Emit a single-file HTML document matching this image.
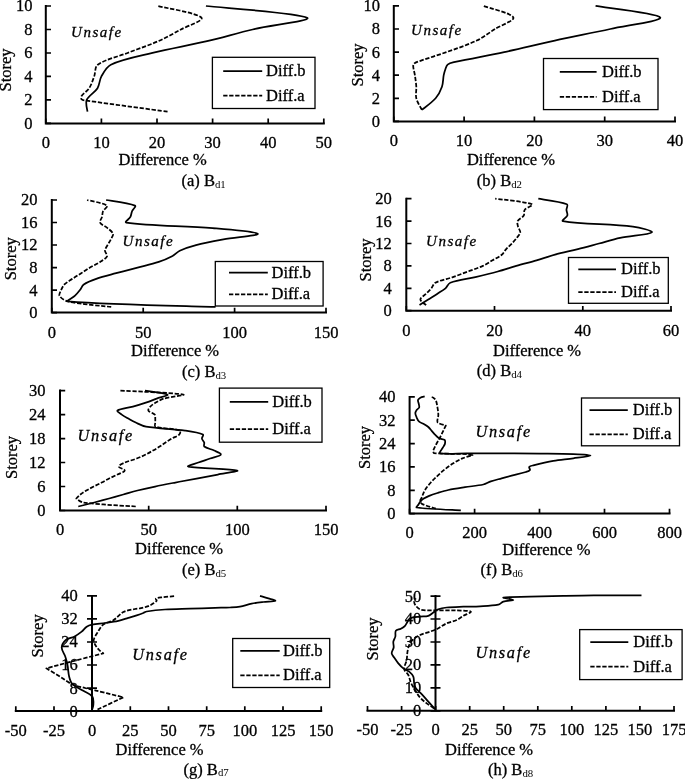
<!DOCTYPE html>
<html><head><meta charset="utf-8"><title>Figure</title>
<style>
html,body{margin:0;padding:0;background:#fff;}
svg{display:block;will-change:transform;}
text{font-family:"Liberation Serif",serif;font-size:16.5px;fill:#000;stroke:#000;stroke-width:0.3px;}
.u{font-style:italic;font-size:15px;letter-spacing:1.55px;}
.u2{font-style:italic;font-size:16.3px;letter-spacing:1.7px;}
</style></head><body>
<svg width="685" height="779" viewBox="0 0 685 779">
<rect width="685" height="779" fill="#fff"/>
<path d="M87.50 111.66C87.36 109.70 85.25 103.24 86.67 99.92C88.59 95.41 94.74 92.59 97.51 88.18C99.65 84.77 99.40 79.97 101.40 76.44C103.84 72.14 106.45 66.72 110.85 64.70C123.50 58.89 138.53 56.38 152.55 52.96C170.59 48.56 188.96 45.46 207.04 41.22C222.32 37.64 237.36 33.06 252.63 29.48C270.72 25.24 312.63 20.51 307.12 17.74C297.06 12.68 222.79 7.96 205.93 6.00" fill="none" stroke="#000" stroke-width="1.75" stroke-linejoin="round" stroke-linecap="butt"/>
<path d="M167.56 111.66C154.05 109.82 113.49 104.45 86.50 100.60C84.87 100.37 82.73 100.29 81.70 99.40C81.03 98.82 80.84 97.04 81.40 96.20C83.33 93.30 87.18 91.25 89.17 88.18C91.44 84.67 92.71 80.43 94.17 76.44C95.58 72.60 94.70 66.87 97.79 64.70C105.82 59.05 117.60 56.83 127.53 52.96C137.71 49.00 148.13 45.61 158.11 41.22C165.92 37.78 173.39 33.55 180.91 29.48C187.85 25.72 204.15 20.42 201.48 17.74C196.36 12.59 164.88 7.96 157.56 6.00" fill="none" stroke="#000" stroke-width="1.75" stroke-linejoin="round" stroke-linecap="butt" stroke-dasharray="4.3 1.7"/>
<path d="M45.8 6.0 V123.4 M45.8 123.4 H323.8" stroke="#000" stroke-width="2" fill="none" stroke-linecap="square"/>
<path d="M45.8 123.4H51.0M45.8 99.9H51.0M45.8 76.4H51.0M45.8 53.0H51.0M45.8 29.5H51.0M45.8 6.0H51.0M45.8 123.4V118.6M101.4 123.4V118.6M157.0 123.4V118.6M212.6 123.4V118.6M268.2 123.4V118.6M323.8 123.4V118.6" stroke="#000" stroke-width="1.7" fill="none"/>
<text x="32.5" y="128.8" text-anchor="end">0</text>
<text x="32.5" y="105.3" text-anchor="end">2</text>
<text x="32.5" y="81.8" text-anchor="end">4</text>
<text x="32.5" y="58.4" text-anchor="end">6</text>
<text x="32.5" y="34.9" text-anchor="end">8</text>
<text x="32.5" y="11.4" text-anchor="end">10</text>
<text x="45.8" y="147.8" text-anchor="middle">0</text>
<text x="101.4" y="147.8" text-anchor="middle">10</text>
<text x="157.0" y="147.8" text-anchor="middle">20</text>
<text x="212.6" y="147.8" text-anchor="middle">30</text>
<text x="268.2" y="147.8" text-anchor="middle">40</text>
<text x="323.8" y="147.8" text-anchor="middle">50</text>
<text transform="translate(10.5 70.0) rotate(-90)" text-anchor="middle">Storey</text>
<text x="118.6" y="164.5">Difference %</text>
<text x="181.5" y="186.0">(a) B<tspan font-size="10.8" dy="1.5" stroke="none">d1</tspan></text>
<text x="71.0" y="37.3" class="u">Unsafe</text>
<rect x="212.4" y="57.3" width="102.6" height="51.2" fill="#fff" stroke="#000" stroke-width="1.3"/>
<path d="M223.2 71.0H262.2" stroke="#000" stroke-width="1.75"/>
<path d="M223.2 95.5H262.2" stroke="#000" stroke-width="1.75" stroke-dasharray="4.3 1.7"/>
<text x="266.0" y="76.0">Diff.b</text>
<text x="266.0" y="100.5">Diff.a</text>
<path d="M421.92 109.85C424.20 107.93 431.78 102.74 435.63 98.30C438.46 95.04 440.53 90.83 441.96 86.75C443.22 83.13 442.97 79.02 443.71 75.20C444.09 73.27 444.62 71.35 445.30 69.50C445.92 67.81 446.32 65.68 447.60 64.60C449.22 63.24 451.78 62.69 454.00 62.20C470.64 58.52 487.49 55.68 504.17 52.10C521.09 48.47 537.88 44.23 554.79 40.55C573.26 36.53 591.85 33.05 610.32 29.00C627.00 25.35 662.39 20.82 660.24 17.45C657.47 13.12 606.34 7.83 595.56 5.90" fill="none" stroke="#000" stroke-width="1.75" stroke-linejoin="round" stroke-linecap="butt"/>
<path d="M421.92 109.85C420.98 107.93 417.28 102.35 416.30 98.30C415.41 94.65 416.53 90.59 416.30 86.75C416.06 82.89 415.46 79.03 414.89 75.20C414.43 72.12 413.27 69.00 413.20 66.00C413.18 65.00 413.79 63.76 414.60 63.20C416.39 61.96 418.83 61.36 421.00 60.60C429.47 57.66 438.09 55.13 446.53 52.10C456.67 48.45 467.06 45.17 476.75 40.55C483.23 37.47 488.94 32.85 495.03 29.00C501.12 25.15 514.91 20.53 513.31 17.45C510.92 12.83 488.12 7.83 483.08 5.90" fill="none" stroke="#000" stroke-width="1.75" stroke-linejoin="round" stroke-linecap="butt" stroke-dasharray="4.3 1.7"/>
<path d="M393.8 5.9 V121.4 M393.8 121.4 H675.0" stroke="#000" stroke-width="2" fill="none" stroke-linecap="square"/>
<path d="M393.8 121.4H399.0M393.8 98.3H399.0M393.8 75.2H399.0M393.8 52.1H399.0M393.8 29.0H399.0M393.8 5.9H399.0M393.8 121.4V116.6M464.1 121.4V116.6M534.4 121.4V116.6M604.7 121.4V116.6M675.0 121.4V116.6" stroke="#000" stroke-width="1.7" fill="none"/>
<text x="380.0" y="126.8" text-anchor="end">0</text>
<text x="380.0" y="103.7" text-anchor="end">2</text>
<text x="380.0" y="80.6" text-anchor="end">4</text>
<text x="380.0" y="57.5" text-anchor="end">6</text>
<text x="380.0" y="34.4" text-anchor="end">8</text>
<text x="380.0" y="11.3" text-anchor="end">10</text>
<text x="393.8" y="146.2" text-anchor="middle">0</text>
<text x="464.1" y="146.2" text-anchor="middle">10</text>
<text x="534.4" y="146.2" text-anchor="middle">20</text>
<text x="604.7" y="146.2" text-anchor="middle">30</text>
<text x="675.0" y="146.2" text-anchor="middle">40</text>
<text transform="translate(363.4 65.0) rotate(-90)" text-anchor="middle">Storey</text>
<text x="466.9" y="164.5">Difference %</text>
<text x="476.8" y="186.0">(b) B<tspan font-size="10.8" dy="1.5" stroke="none">d2</tspan></text>
<text x="411.0" y="34.8" class="u">Unsafe</text>
<rect x="543.5" y="58.5" width="114.5" height="51.1" fill="#fff" stroke="#000" stroke-width="1.3"/>
<path d="M559.8 71.8H596.6" stroke="#000" stroke-width="1.75"/>
<path d="M559.8 96.9H596.6" stroke="#000" stroke-width="1.75" stroke-dasharray="4.3 1.7"/>
<text x="602.0" y="76.8">Diff.b</text>
<text x="602.0" y="101.9">Diff.a</text>
<path d="M215.59 306.97C191.00 306.03 112.25 304.88 68.07 301.34C65.39 301.13 72.86 297.75 75.02 295.71C76.82 294.00 78.42 292.04 79.95 290.08C81.34 288.29 81.98 285.70 83.79 284.45C87.41 281.95 91.94 280.31 96.22 278.82C102.72 276.56 109.49 275.00 116.15 273.19C123.26 271.25 130.41 269.44 137.53 267.56C144.60 265.69 151.80 264.19 158.74 261.93C163.32 260.44 167.85 258.56 172.08 256.30C174.86 254.81 176.92 252.01 179.76 250.67C184.90 248.25 190.48 246.47 196.03 245.04C205.05 242.72 214.27 241.08 223.45 239.41C234.87 237.33 259.37 235.41 257.82 233.78C255.78 231.65 227.77 229.44 212.66 228.15C183.90 225.69 151.56 225.99 126.20 222.52C124.14 222.24 129.34 218.94 130.40 216.89C131.29 215.18 131.32 213.06 132.05 211.26C132.84 209.31 136.51 206.30 134.97 205.63C127.86 202.54 110.91 200.94 106.09 200.00" fill="none" stroke="#000" stroke-width="1.75" stroke-linejoin="round" stroke-linecap="butt"/>
<path d="M111.21 306.97C103.93 306.03 81.62 304.41 67.52 301.34C64.38 300.66 60.81 298.06 59.48 295.71C58.68 294.31 60.34 291.86 61.12 290.08C61.99 288.10 62.91 285.95 64.41 284.45C66.68 282.19 69.74 280.64 72.46 278.82C75.34 276.89 78.31 275.07 81.23 273.19C84.16 271.31 87.02 269.34 90.01 267.56C93.30 265.59 96.87 264.04 100.06 261.93C102.54 260.29 106.02 258.55 107.01 256.30C107.66 254.80 104.90 252.51 104.99 250.67C105.09 248.76 106.60 246.87 107.55 245.04C108.55 243.11 109.90 241.36 110.84 239.41C111.72 237.60 113.51 235.41 113.04 233.78C112.42 231.66 109.53 229.86 107.55 228.15C105.20 226.11 101.18 224.81 100.06 222.52C99.35 221.06 101.57 218.81 102.07 216.89C102.55 215.06 102.24 212.96 102.98 211.26C103.89 209.20 108.33 206.57 107.01 205.63C103.03 202.82 90.40 200.94 87.08 200.00" fill="none" stroke="#000" stroke-width="1.75" stroke-linejoin="round" stroke-linecap="butt" stroke-dasharray="4.3 1.7"/>
<path d="M51.8 200.0 V312.6 M51.8 312.6 H326.0" stroke="#000" stroke-width="2" fill="none" stroke-linecap="square"/>
<path d="M51.8 312.6H57.0M51.8 290.1H57.0M51.8 267.6H57.0M51.8 245.0H57.0M51.8 222.5H57.0M51.8 200.0H57.0M51.8 312.6V307.8M143.2 312.6V307.8M234.6 312.6V307.8M326.0 312.6V307.8" stroke="#000" stroke-width="1.7" fill="none"/>
<text x="37.6" y="318.0" text-anchor="end">0</text>
<text x="37.6" y="295.5" text-anchor="end">4</text>
<text x="37.6" y="273.0" text-anchor="end">8</text>
<text x="37.6" y="250.4" text-anchor="end">12</text>
<text x="37.6" y="227.9" text-anchor="end">16</text>
<text x="37.6" y="205.4" text-anchor="end">20</text>
<text x="51.8" y="337.7" text-anchor="middle">0</text>
<text x="143.2" y="337.7" text-anchor="middle">50</text>
<text x="234.6" y="337.7" text-anchor="middle">100</text>
<text x="326.0" y="337.7" text-anchor="middle">150</text>
<text transform="translate(15.6 258.8) rotate(-90)" text-anchor="middle">Storey</text>
<text x="131.0" y="356.0">Difference %</text>
<text x="182.0" y="377.0">(c) B<tspan font-size="10.8" dy="1.5" stroke="none">d3</tspan></text>
<text x="122.5" y="245.8" class="u">Unsafe</text>
<rect x="215.3" y="261.5" width="107.8" height="44.5" fill="#fff" stroke="#000" stroke-width="1.3"/>
<path d="M229.0 272.5H267.8" stroke="#000" stroke-width="1.75"/>
<path d="M229.0 294.3H267.8" stroke="#000" stroke-width="1.75" stroke-dasharray="4.3 1.7"/>
<text x="271.5" y="277.5">Diff.b</text>
<text x="271.5" y="299.3">Diff.a</text>
<path d="M419.50 305.10C420.97 304.17 425.37 301.37 428.30 299.50C431.23 297.63 434.19 295.80 437.10 293.90C439.91 292.07 442.92 290.45 445.46 288.30C447.32 286.72 448.07 283.53 450.30 282.70C458.04 279.80 467.04 279.06 475.38 277.10C482.88 275.33 490.39 273.53 497.82 271.50C504.03 269.80 510.12 267.69 516.30 265.90C523.02 263.96 529.82 262.24 536.54 260.30C542.72 258.51 548.81 256.38 555.02 254.70C562.60 252.65 570.29 251.04 577.90 249.10C584.96 247.30 591.98 245.37 599.02 243.50C606.06 241.63 613.02 239.41 620.14 237.90C630.62 235.68 649.18 234.61 651.82 232.30C653.44 230.88 639.40 227.52 632.90 226.70C609.77 223.79 582.78 224.49 562.94 221.10C560.93 220.76 566.69 217.58 567.34 215.50C567.86 213.85 566.53 211.78 566.46 209.90C566.39 208.04 568.42 204.90 566.90 204.30C559.03 201.17 543.07 199.63 538.30 198.70" fill="none" stroke="#000" stroke-width="1.75" stroke-linejoin="round" stroke-linecap="butt"/>
<path d="M426.10 305.10C425.15 304.17 420.42 301.38 420.38 299.50C420.34 297.65 424.05 295.77 425.88 293.90C427.71 292.03 429.70 290.29 431.38 288.30C432.85 286.56 433.39 283.71 435.34 282.70C440.58 279.98 447.12 279.10 452.94 277.10C457.97 275.37 462.91 273.37 467.90 271.50C472.89 269.63 478.03 268.10 482.86 265.90C486.24 264.36 489.33 262.20 492.54 260.30C495.64 258.47 499.04 256.95 501.78 254.70C503.59 253.22 504.59 250.86 506.18 249.10C507.97 247.12 510.07 245.44 511.90 243.50C513.59 241.71 515.27 239.87 516.74 237.90C518.06 236.14 520.03 234.26 520.26 232.30C520.47 230.52 518.52 228.63 518.06 226.70C517.64 224.90 516.85 222.60 517.62 221.10C518.76 218.87 522.38 217.72 523.78 215.50C524.73 213.99 523.61 211.31 524.66 209.90C526.39 207.58 534.11 205.05 532.14 204.30C524.28 201.31 501.34 199.63 495.18 198.70" fill="none" stroke="#000" stroke-width="1.75" stroke-linejoin="round" stroke-linecap="butt" stroke-dasharray="4.3 1.7"/>
<path d="M406.3 198.7 V310.7 M406.3 310.7 H671.0" stroke="#000" stroke-width="2" fill="none" stroke-linecap="square"/>
<path d="M406.3 310.7H411.5M406.3 288.3H411.5M406.3 265.9H411.5M406.3 243.5H411.5M406.3 221.1H411.5M406.3 198.7H411.5M406.3 310.7V305.9M494.5 310.7V305.9M582.8 310.7V305.9M671.0 310.7V305.9" stroke="#000" stroke-width="1.7" fill="none"/>
<text x="391.8" y="316.1" text-anchor="end">0</text>
<text x="391.8" y="293.7" text-anchor="end">4</text>
<text x="391.8" y="271.3" text-anchor="end">8</text>
<text x="391.8" y="248.9" text-anchor="end">12</text>
<text x="391.8" y="226.5" text-anchor="end">16</text>
<text x="391.8" y="204.1" text-anchor="end">20</text>
<text x="406.3" y="335.6" text-anchor="middle">0</text>
<text x="494.5" y="335.6" text-anchor="middle">20</text>
<text x="582.8" y="335.6" text-anchor="middle">40</text>
<text x="671.0" y="335.6" text-anchor="middle">60</text>
<text transform="translate(371.1 260.0) rotate(-90)" text-anchor="middle">Storey</text>
<text x="493.0" y="355.8">Difference %</text>
<text x="476.8" y="376.0">(d) B<tspan font-size="10.8" dy="1.5" stroke="none">d4</tspan></text>
<text x="426.0" y="246.0" class="u">Unsafe</text>
<rect x="568.5" y="257.5" width="99.8" height="45.8" fill="#fff" stroke="#000" stroke-width="1.3"/>
<path d="M578.3 269.3H616.0" stroke="#000" stroke-width="1.75"/>
<path d="M578.3 292.0H616.0" stroke="#000" stroke-width="1.75" stroke-dasharray="4.3 1.7"/>
<text x="621.0" y="274.3">Diff.b</text>
<text x="621.0" y="297.0">Diff.a</text>
<path d="M78.27 506.50C80.93 505.84 88.93 503.88 94.24 502.51C99.22 501.22 104.18 499.87 109.14 498.51C113.88 497.21 118.60 495.85 123.33 494.51C128.06 493.18 132.76 491.72 137.52 490.52C143.34 489.05 149.21 487.76 155.09 486.52C161.81 485.10 168.56 483.82 175.31 482.52C182.40 481.16 189.50 479.86 196.60 478.53C203.69 477.19 210.80 475.92 217.89 474.53C224.34 473.26 240.05 471.30 237.22 470.53C230.18 468.63 198.86 468.72 188.26 466.54C185.91 466.05 194.97 463.79 198.37 462.54C202.24 461.12 206.19 459.92 210.08 458.54C213.70 457.26 220.09 456.13 220.90 454.55C221.45 453.47 216.51 451.68 214.16 450.55C210.95 449.01 206.64 448.49 204.23 446.55C203.33 445.83 204.58 443.79 204.23 442.56C203.81 441.13 202.14 439.97 201.92 438.56C201.72 437.30 204.02 435.05 202.98 434.56C198.40 432.39 191.12 431.42 185.07 430.57C172.14 428.75 158.87 428.65 146.04 426.57C142.43 425.98 139.10 424.08 135.75 422.57C133.18 421.42 130.75 419.97 128.30 418.58C126.07 417.31 123.78 416.09 121.74 414.58C120.18 413.43 116.48 411.30 117.48 410.58C120.20 408.63 127.80 408.03 132.91 406.59C137.26 405.36 141.58 404.03 145.86 402.59C149.51 401.36 153.08 399.93 156.68 398.59C160.29 397.26 168.81 395.49 167.50 394.60C164.91 392.83 148.73 391.27 144.97 390.60" fill="none" stroke="#000" stroke-width="1.75" stroke-linejoin="round" stroke-linecap="butt"/>
<path d="M135.75 506.50C127.00 505.84 100.44 504.82 83.24 502.51C80.63 502.16 76.32 498.51 76.32 498.51C76.32 498.51 78.92 495.70 80.40 494.51C82.23 493.04 84.23 491.73 86.26 490.52C88.67 489.07 91.20 487.82 93.71 486.52C96.35 485.15 99.05 483.89 101.69 482.52C104.19 481.23 106.63 479.80 109.14 478.53C111.89 477.13 114.74 475.93 117.48 474.53C119.94 473.27 124.53 471.96 124.75 470.53C124.94 469.29 118.69 467.86 118.72 466.54C118.75 465.19 122.70 463.54 124.93 462.54C128.67 460.87 132.79 460.02 136.64 458.54C139.71 457.36 142.73 456.00 145.68 454.55C148.17 453.33 150.55 451.92 152.96 450.55C155.23 449.26 157.49 447.95 159.70 446.55C161.69 445.29 163.58 443.86 165.55 442.56C167.60 441.20 169.64 439.80 171.76 438.56C174.19 437.14 177.37 436.36 179.21 434.56C180.10 433.70 181.04 430.94 179.92 430.57C173.06 428.27 162.35 428.87 155.26 426.57C154.13 426.20 155.26 423.91 155.26 422.57C155.26 421.24 155.35 419.90 155.26 418.58C155.17 417.24 155.54 415.51 154.73 414.58C153.23 412.84 149.27 412.26 148.35 410.58C147.80 409.59 149.31 407.64 150.30 406.59C151.80 404.98 153.85 403.74 155.80 402.59C158.35 401.08 160.94 399.42 163.78 398.59C170.11 396.75 186.78 395.23 183.29 394.60C172.18 392.57 130.52 391.27 119.96 390.60" fill="none" stroke="#000" stroke-width="1.75" stroke-linejoin="round" stroke-linecap="butt" stroke-dasharray="4.3 1.7"/>
<path d="M60.0 390.6 V510.5 M60.0 510.5 H326.0" stroke="#000" stroke-width="2" fill="none" stroke-linecap="square"/>
<path d="M60.0 510.5H65.2M60.0 486.5H65.2M60.0 462.5H65.2M60.0 438.6H65.2M60.0 414.6H65.2M60.0 390.6H65.2M60.0 510.5V505.7M148.7 510.5V505.7M237.3 510.5V505.7M326.0 510.5V505.7" stroke="#000" stroke-width="1.7" fill="none"/>
<text x="45.5" y="515.9" text-anchor="end">0</text>
<text x="45.5" y="491.9" text-anchor="end">6</text>
<text x="45.5" y="467.9" text-anchor="end">12</text>
<text x="45.5" y="444.0" text-anchor="end">18</text>
<text x="45.5" y="420.0" text-anchor="end">24</text>
<text x="45.5" y="396.0" text-anchor="end">30</text>
<text x="60.0" y="535.4" text-anchor="middle">0</text>
<text x="148.7" y="535.4" text-anchor="middle">50</text>
<text x="237.3" y="535.4" text-anchor="middle">100</text>
<text x="326.0" y="535.4" text-anchor="middle">150</text>
<text transform="translate(16.5 457.5) rotate(-90)" text-anchor="middle">Storey</text>
<text x="135.0" y="553.8">Difference %</text>
<text x="182.0" y="575.0">(e) B<tspan font-size="10.8" dy="1.5" stroke="none">d5</tspan></text>
<text x="77.6" y="440.5" class="u2">Unsafe</text>
<rect x="219.4" y="388.1" width="102.6" height="54.1" fill="#fff" stroke="#000" stroke-width="1.3"/>
<path d="M229.8 401.8H268.2" stroke="#000" stroke-width="1.75"/>
<path d="M229.8 429.0H268.2" stroke="#000" stroke-width="1.75" stroke-dasharray="4.3 1.7"/>
<text x="272.3" y="406.8">Diff.b</text>
<text x="272.3" y="434.0">Diff.a</text>
<path d="M460.83 510.33C453.47 509.86 429.85 509.26 416.67 507.50C415.69 507.37 417.75 505.59 418.33 504.67C418.97 503.65 419.56 502.57 420.33 501.67C421.22 500.63 422.20 499.58 423.33 498.83C425.14 497.64 427.15 496.66 429.17 495.83C431.87 494.72 434.69 493.85 437.50 493.00C441.08 491.91 444.67 490.78 448.33 490.00C453.84 488.83 459.43 488.04 465.00 487.17C471.10 486.21 477.35 485.85 483.33 484.50C485.96 483.91 488.27 482.20 490.83 481.33C494.38 480.14 498.05 479.32 501.67 478.33C505.00 477.43 508.33 476.54 511.67 475.67C516.39 474.43 521.19 473.44 525.83 472.00C527.30 471.55 529.34 471.00 530.00 470.00C530.45 469.33 528.71 467.64 529.17 467.00C529.82 466.08 531.89 465.70 533.33 465.33C539.94 463.65 546.61 462.01 553.33 460.83C559.94 459.68 566.68 459.29 573.33 458.33C579.07 457.51 590.50 456.20 590.50 455.50C590.50 454.81 579.07 454.37 573.33 454.17C562.23 453.76 551.11 453.78 540.00 453.67C523.33 453.50 506.67 453.41 490.00 453.33C482.22 453.30 474.44 453.33 466.67 453.33C457.78 453.33 447.17 454.48 440.00 453.33C438.84 453.15 441.00 450.61 441.67 449.33C442.22 448.27 443.07 447.37 443.67 446.33C444.18 445.43 444.84 444.49 445.00 443.50C445.18 442.38 445.40 440.65 444.67 440.00C443.46 438.93 440.81 439.24 439.17 438.33C437.58 437.46 436.31 435.97 435.00 434.67C433.81 433.47 432.78 432.11 431.67 430.83C430.56 429.56 429.59 428.12 428.33 427.00C427.09 425.89 425.62 425.01 424.17 424.17C422.56 423.23 420.50 422.86 419.17 421.67C418.00 420.63 417.34 418.96 416.67 417.50C416.06 416.18 415.33 414.71 415.33 413.33C415.33 412.21 416.02 410.98 416.67 410.00C417.30 409.04 418.80 408.50 419.17 407.50C419.52 406.55 419.00 405.27 418.83 404.17C418.62 402.77 417.72 401.22 418.00 400.00C418.22 399.05 419.40 398.18 420.33 397.67C421.62 396.96 423.94 396.56 424.67 396.33" fill="none" stroke="#000" stroke-width="1.75" stroke-linejoin="round" stroke-linecap="butt"/>
<path d="M435.83 508.67C433.47 507.83 425.84 505.91 421.67 503.67C420.67 503.13 420.40 501.43 420.33 500.33C420.29 499.65 421.03 499.01 421.33 498.33C422.58 495.57 423.45 492.58 425.00 490.00C426.62 487.30 428.74 484.87 430.83 482.50C432.91 480.15 435.21 477.99 437.50 475.83C439.93 473.54 442.38 471.24 445.00 469.17C447.66 467.07 450.45 465.12 453.33 463.33C456.29 461.50 459.31 459.69 462.50 458.33C465.70 456.97 472.50 455.17 472.50 455.17C472.50 455.17 468.64 454.21 466.67 454.08C461.14 453.74 455.55 453.91 450.00 453.75C444.61 453.60 433.83 453.17 433.83 453.17C433.83 453.17 433.00 451.70 433.17 451.00C433.66 448.98 434.85 446.95 435.83 445.00C437.12 442.45 438.68 440.03 440.00 437.50C441.29 435.03 442.45 432.50 443.67 430.00C444.39 428.50 445.83 425.50 445.83 425.50C445.83 425.50 440.26 424.07 438.00 422.83C437.42 422.52 437.30 421.52 437.33 420.83C437.42 418.91 438.33 416.95 438.33 415.00C438.33 412.23 437.80 409.42 437.33 406.67C436.97 404.53 436.69 402.25 435.83 400.33C435.35 399.25 434.32 398.32 433.33 397.67C432.38 397.04 430.56 396.69 430.00 396.50" fill="none" stroke="#000" stroke-width="1.75" stroke-linejoin="round" stroke-linecap="butt" stroke-dasharray="4.3 1.7"/>
<path d="M409.6 396.9 V513.6 M409.6 513.6 H669.5" stroke="#000" stroke-width="2" fill="none" stroke-linecap="square"/>
<path d="M409.6 513.6H414.8M409.6 490.3H414.8M409.6 466.9H414.8M409.6 443.6H414.8M409.6 420.2H414.8M409.6 396.9H414.8M409.6 513.6V508.8M474.6 513.6V508.8M539.5 513.6V508.8M604.5 513.6V508.8M669.5 513.6V508.8" stroke="#000" stroke-width="1.7" fill="none"/>
<text x="395.5" y="519.0" text-anchor="end">0</text>
<text x="395.5" y="495.7" text-anchor="end">8</text>
<text x="395.5" y="472.3" text-anchor="end">16</text>
<text x="395.5" y="449.0" text-anchor="end">24</text>
<text x="395.5" y="425.6" text-anchor="end">32</text>
<text x="395.5" y="402.3" text-anchor="end">40</text>
<text x="409.6" y="538.0" text-anchor="middle">0</text>
<text x="474.6" y="538.0" text-anchor="middle">200</text>
<text x="539.5" y="538.0" text-anchor="middle">400</text>
<text x="604.5" y="538.0" text-anchor="middle">600</text>
<text x="669.5" y="538.0" text-anchor="middle">800</text>
<text transform="translate(369.5 447.5) rotate(-90)" text-anchor="middle">Storey</text>
<text x="502.3" y="554.5">Difference %</text>
<text x="480.6" y="575.4">(f) B<tspan font-size="10.8" dy="1.5" stroke="none">d6</tspan></text>
<text x="475.5" y="437.0" class="u2">Unsafe</text>
<rect x="581.5" y="398.0" width="98.0" height="47.8" fill="#fff" stroke="#000" stroke-width="1.3"/>
<path d="M589.5 410.0H627.8" stroke="#000" stroke-width="1.75"/>
<path d="M589.5 434.3H627.8" stroke="#000" stroke-width="1.75" stroke-dasharray="4.3 1.7"/>
<text x="632.8" y="415.0">Diff.b</text>
<text x="632.8" y="439.3">Diff.a</text>
<path d="M92.00 710.00C92.22 709.17 93.27 706.70 93.33 705.00C93.44 702.25 93.95 698.72 92.50 696.67C90.62 694.00 86.40 692.75 83.33 690.83C79.74 688.59 75.37 687.04 72.50 684.17C70.65 682.31 69.85 679.29 69.17 676.67C68.18 672.90 68.24 668.85 67.50 665.00C66.96 662.19 66.24 659.38 65.33 656.67C64.29 653.55 61.58 650.47 61.67 647.50C61.74 644.92 63.80 641.76 65.83 640.00C67.96 638.15 71.53 638.05 74.17 636.67C76.81 635.27 79.33 633.53 81.67 631.67C83.50 630.20 84.76 627.96 86.67 626.67C88.20 625.63 90.15 625.04 92.00 624.67C96.26 623.81 100.68 623.63 105.00 623.00C109.46 622.35 113.95 621.80 118.33 620.83C121.72 620.08 125.00 618.83 128.33 617.83C131.11 617.00 133.91 616.22 136.67 615.33C138.91 614.61 141.14 613.84 143.33 613.00C144.47 612.56 145.47 611.69 146.67 611.50C152.69 610.53 158.87 609.90 165.00 609.50C173.31 608.96 181.67 608.94 190.00 608.67C198.33 608.39 206.67 608.08 215.00 607.83C220.00 607.69 225.01 607.73 230.00 607.50C233.34 607.34 236.72 607.25 240.00 606.67C243.94 605.97 247.74 604.45 251.67 603.67C255.51 602.90 259.43 602.47 263.33 602.00C267.32 601.52 274.30 601.59 275.33 600.83C275.97 600.37 270.69 599.10 268.33 598.33C265.58 597.43 261.39 596.25 260.00 595.83" fill="none" stroke="#000" stroke-width="1.75" stroke-linejoin="round" stroke-linecap="butt"/>
<path d="M97.50 709.50C101.81 707.47 123.33 697.33 123.33 697.33C123.33 697.33 104.45 692.63 95.00 690.33C91.67 689.52 88.31 688.86 85.00 688.00C80.81 686.91 76.40 686.27 72.50 684.50C68.07 682.49 64.18 679.25 60.00 676.67C55.46 673.86 46.33 668.33 46.33 668.33C46.33 668.33 65.43 663.18 75.00 660.67C84.43 658.18 103.33 653.33 103.33 653.33C103.33 653.33 100.39 651.27 99.17 650.00C97.72 648.50 96.33 646.82 95.33 645.00C94.50 643.48 93.39 641.60 93.67 640.00C94.11 637.44 96.02 634.87 97.50 632.50C99.24 629.71 100.81 626.44 103.33 624.50C106.09 622.38 110.31 622.23 113.33 620.33C116.97 618.06 119.58 613.96 123.33 612.00C126.80 610.18 131.08 609.86 135.00 609.00C136.64 608.64 138.36 608.68 140.00 608.33C142.80 607.74 145.68 607.20 148.33 606.17C150.40 605.36 152.31 604.06 154.17 602.83C155.08 602.23 156.33 601.51 156.67 600.67C156.89 600.12 155.39 598.96 155.83 598.67C157.06 597.85 159.69 597.60 161.67 597.33C165.81 596.77 172.08 596.36 174.17 596.17" fill="none" stroke="#000" stroke-width="1.75" stroke-linejoin="round" stroke-linecap="butt" stroke-dasharray="4.3 1.7"/>
<path d="M92.0 595.9 V711.1 M15.8 711.1 H321.2" stroke="#000" stroke-width="2" fill="none" stroke-linecap="square"/>
<path d="M87.0 711.1H97.0M87.0 688.1H97.0M87.0 665.0H97.0M87.0 642.0H97.0M87.0 618.9H97.0M87.0 595.9H97.0M15.8 711.1V706.3M54.0 711.1V706.3M92.1 711.1V706.3M130.3 711.1V706.3M168.5 711.1V706.3M206.7 711.1V706.3M244.8 711.1V706.3M283.0 711.1V706.3M321.2 711.1V706.3" stroke="#000" stroke-width="1.7" fill="none"/>
<text x="77.8" y="716.5" text-anchor="end">0</text>
<text x="77.8" y="693.5" text-anchor="end">8</text>
<text x="77.8" y="670.4" text-anchor="end">16</text>
<text x="77.8" y="647.4" text-anchor="end">24</text>
<text x="77.8" y="624.3" text-anchor="end">32</text>
<text x="77.8" y="601.3" text-anchor="end">40</text>
<text x="15.8" y="735.8" text-anchor="middle">-50</text>
<text x="54.0" y="735.8" text-anchor="middle">-25</text>
<text x="92.1" y="735.8" text-anchor="middle">0</text>
<text x="130.3" y="735.8" text-anchor="middle">25</text>
<text x="168.5" y="735.8" text-anchor="middle">50</text>
<text x="206.7" y="735.8" text-anchor="middle">75</text>
<text x="244.8" y="735.8" text-anchor="middle">100</text>
<text x="283.0" y="735.8" text-anchor="middle">125</text>
<text x="321.2" y="735.8" text-anchor="middle">150</text>
<text transform="translate(43.3 635.9) rotate(-90)" text-anchor="middle">Storey</text>
<text x="115.5" y="754.8">Difference %</text>
<text x="183.5" y="774.5">(g) B<tspan font-size="10.8" dy="1.5" stroke="none">d7</tspan></text>
<text x="132.3" y="660.3" class="u2">Unsafe</text>
<rect x="232.7" y="638.5" width="97.0" height="49.0" fill="#fff" stroke="#000" stroke-width="1.3"/>
<path d="M240.3 650.8H279.7" stroke="#000" stroke-width="1.75"/>
<path d="M240.3 675.4H279.7" stroke="#000" stroke-width="1.75" stroke-dasharray="4.3 1.7"/>
<text x="283.0" y="655.8">Diff.b</text>
<text x="283.0" y="680.4">Diff.a</text>
<path d="M435.00 709.17C433.89 707.92 430.56 704.17 428.33 701.67C426.11 699.17 423.95 696.61 421.67 694.17C419.79 692.16 417.36 690.54 415.83 688.33C414.86 686.93 414.53 685.04 414.17 683.33C413.70 681.15 414.18 678.64 413.33 676.67C412.51 674.75 410.81 673.03 409.17 671.67C407.47 670.26 405.09 669.69 403.33 668.33C401.48 666.91 399.85 665.13 398.33 663.33C396.80 661.52 395.49 659.49 394.17 657.50C393.27 656.15 391.74 654.80 391.67 653.33C391.57 651.47 393.38 649.50 393.67 647.50C393.94 645.61 393.04 643.55 393.33 641.67C393.60 639.93 394.93 638.40 395.33 636.67C395.77 634.79 394.88 632.21 395.83 630.83C396.72 629.55 399.25 629.53 400.83 628.67C402.30 627.87 403.87 627.02 405.00 625.83C406.09 624.69 406.60 623.01 407.50 621.67C408.27 620.51 408.79 618.82 410.00 618.33C412.95 617.15 416.65 617.12 420.00 616.67C422.76 616.29 425.75 616.64 428.33 615.83C430.19 615.25 431.67 613.62 433.33 612.50C434.73 611.56 435.95 610.25 437.50 609.67C440.40 608.58 443.56 607.86 446.67 607.50C452.17 606.86 457.77 606.86 463.33 606.67C468.89 606.47 474.46 606.65 480.00 606.33C486.12 605.98 492.43 605.85 498.33 604.67C500.20 604.29 501.51 602.23 503.33 601.67C506.51 600.68 513.33 600.69 513.33 600.00C513.33 599.30 501.79 597.81 503.33 597.50C507.34 596.70 521.11 596.91 530.00 596.67C541.11 596.36 552.22 596.07 563.33 595.83C573.50 595.62 583.67 595.40 593.83 595.33C609.72 595.22 633.56 595.31 641.50 595.30" fill="none" stroke="#000" stroke-width="1.75" stroke-linejoin="round" stroke-linecap="butt"/>
<path d="M434.17 708.33C432.92 707.50 429.05 705.15 426.67 703.33C424.33 701.54 421.93 699.70 420.00 697.50C418.04 695.26 416.57 692.56 415.00 690.00C413.51 687.56 411.99 685.10 410.83 682.50C409.77 680.10 409.50 677.33 408.33 675.00C407.28 672.89 404.41 671.32 404.17 669.17C403.85 666.32 406.08 663.10 406.67 660.00C407.19 657.27 407.04 654.41 407.50 651.67C407.88 649.41 408.28 647.07 409.17 645.00C409.94 643.19 411.06 641.33 412.50 640.00C414.67 638.00 417.31 636.28 420.00 635.00C423.14 633.50 426.70 632.86 430.00 631.67C432.53 630.75 435.10 629.87 437.50 628.67C440.65 627.09 443.46 624.78 446.67 623.33C449.85 621.89 453.48 621.43 456.67 620.00C459.04 618.93 461.08 617.16 463.33 615.83C465.80 614.38 471.81 612.31 470.83 611.67C469.03 610.48 460.29 610.54 455.00 610.33C448.90 610.10 442.78 610.45 436.67 610.33C431.39 610.23 425.80 610.74 420.83 609.67C418.86 609.24 417.13 607.39 415.83 605.83C414.91 604.72 414.17 603.03 414.17 601.67C414.17 600.53 415.56 598.89 415.83 598.33" fill="none" stroke="#000" stroke-width="1.75" stroke-linejoin="round" stroke-linecap="butt" stroke-dasharray="4.3 1.7"/>
<path d="M435.5 596.1 V710.8 M367.5 710.8 H674.0" stroke="#000" stroke-width="2" fill="none" stroke-linecap="square"/>
<path d="M430.5 710.8H440.5M430.5 687.9H440.5M430.5 664.9H440.5M430.5 642.0H440.5M430.5 619.0H440.5M430.5 596.1H440.5M367.5 710.8V706.0M401.6 710.8V706.0M435.6 710.8V706.0M469.7 710.8V706.0M503.7 710.8V706.0M537.8 710.8V706.0M571.8 710.8V706.0M605.9 710.8V706.0M639.9 710.8V706.0M674.0 710.8V706.0" stroke="#000" stroke-width="1.7" fill="none"/>
<text x="421.3" y="716.2" text-anchor="end">0</text>
<text x="421.3" y="693.3" text-anchor="end">10</text>
<text x="421.3" y="670.3" text-anchor="end">20</text>
<text x="421.3" y="647.4" text-anchor="end">30</text>
<text x="421.3" y="624.4" text-anchor="end">40</text>
<text x="421.3" y="601.5" text-anchor="end">50</text>
<text x="367.5" y="735.3" text-anchor="middle">-50</text>
<text x="401.6" y="735.3" text-anchor="middle">-25</text>
<text x="435.6" y="735.3" text-anchor="middle">0</text>
<text x="469.7" y="735.3" text-anchor="middle">25</text>
<text x="503.7" y="735.3" text-anchor="middle">50</text>
<text x="537.8" y="735.3" text-anchor="middle">75</text>
<text x="571.8" y="735.3" text-anchor="middle">100</text>
<text x="605.9" y="735.3" text-anchor="middle">125</text>
<text x="639.9" y="735.3" text-anchor="middle">150</text>
<text x="674.0" y="735.3" text-anchor="middle">175</text>
<text transform="translate(377.6 639.0) rotate(-90)" text-anchor="middle">Storey</text>
<text x="445.0" y="754.5">Difference %</text>
<text x="488.0" y="775.0">(h) B<tspan font-size="10.8" dy="1.5" stroke="none">d8</tspan></text>
<text x="475.5" y="657.8" class="u2">Unsafe</text>
<rect x="579.7" y="629.6" width="102.4" height="50.0" fill="#fff" stroke="#000" stroke-width="1.3"/>
<path d="M590.3 642.0H628.3" stroke="#000" stroke-width="1.75"/>
<path d="M590.3 666.5H628.3" stroke="#000" stroke-width="1.75" stroke-dasharray="4.3 1.7"/>
<text x="633.3" y="647.0">Diff.b</text>
<text x="633.3" y="671.5">Diff.a</text>
</svg>
</body></html>
